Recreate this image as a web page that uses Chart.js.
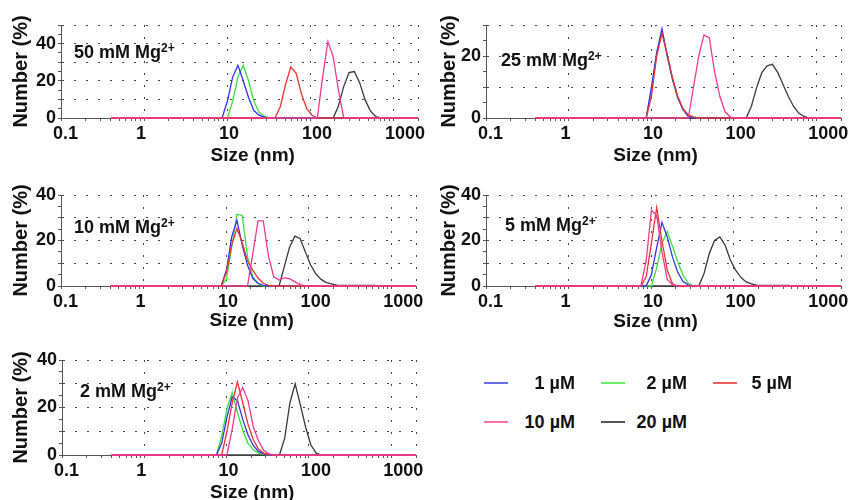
<!DOCTYPE html>
<html>
<head>
<meta charset="utf-8">
<script src="https://cdn.jsdelivr.net/npm/chart.js@4.4.1/dist/chart.umd.min.js"></script>
<style>
  html, body { margin: 0; padding: 0; background: #fff; width: 858px; height: 500px; overflow: hidden; }
  body { position: relative; font-family: "Liberation Sans", Arial, sans-serif; font-weight: bold; color: #111; }
  .panel { position: absolute; }
  .panel canvas { display: block; }
  .note { position: absolute; font-size: 18px; line-height: 18px; white-space: nowrap; }
  .note sup { font-size: 12px; position: relative; top: -6px; vertical-align: baseline; }
  .leg-line { position: absolute; width: 24px; height: 2px; }
  .leg-text { position: absolute; width: 70px; text-align: right; font-size: 18px; line-height: 18px; white-space: nowrap; }
</style>
</head>
<body>
<script>
// series labels (protein concentration) and panel labels (Mg2+ concentration)
const CONC_LABELS = ["1 µM", "2 µM", "5 µM", "10 µM", "20 µM"];
const PANEL_NAMES = ["50 mM Mg", "25 mM Mg", "10 mM Mg", "5 mM Mg", "2 mM Mg"];
const Y_MAX = [50, 30, 40, 40, 40];

const X_MIN = 0.1;
const X_MAX = 2000;
const X_TICK_VALUES = [0.1, 1, 10, 100, 1000];
const X_TICK_LABELS = ["0.1", "1", "10", "100", "1000"];

// [size (nm), number (%)]
const MG50_1UM = [[0.4,0],[8.721,0],[10.1,9],[11.7,22],[13.54,28.3],[15.69,20],[18.17,11],[21.04,4],[24.36,1.5],[28.21,0.5],[32.67,0],[1990,0]];
const MG50_2UM = [[0.4,0],[10.1,0],[11.7,9],[13.54,22],[15.69,28.3],[18.17,20],[21.04,9],[24.36,3],[28.21,1],[32.67,0],[1990,0]];
const MG50_5UM = [[0.4,0],[37.84,0],[43.82,6],[50.75,18],[58.77,27.5],[68.06,24],[78.82,13],[91.28,5],[105.7,1.5],[122.4,0],[1990,0]];
const MG50_10UM = [[0.4,0],[122.4,0],[141.8,22],[164.2,41],[190.1,33],[220.2,15],[255,0],[1990,0]];
const MG50_20UM = [[0.4,0],[190.1,0],[220.2,6.5],[255,17],[295.3,24.4],[342,25],[396.1,19],[458.7,10],[531.2,4],[615.1,0.8],[712.4,0],[1990,0]];

const MG25_1UM = [[0.4,0],[8.721,0],[10.1,10],[11.7,21],[13.54,28.8],[15.69,20],[18.17,12.5],[21.04,6.5],[24.36,2.7],[28.21,0.5],[32.67,0],[1990,0]];
const MG25_2UM = [[0.4,0],[8.721,0],[10.1,9],[11.7,21],[13.54,28],[15.69,20.5],[18.17,12.5],[21.04,6.5],[24.36,3],[28.21,1],[32.67,0.4],[37.84,0],[1990,0]];
const MG25_5UM = [[0.4,0],[8.721,0],[10.1,7],[11.7,20],[13.54,27.2],[15.69,20.5],[18.17,13],[21.04,7],[24.36,3],[28.21,1],[32.67,0.3],[37.84,0],[1990,0]];
const MG25_10UM = [[0.4,0],[28.21,0],[32.67,10],[37.84,20],[43.82,26.8],[50.75,25.8],[58.77,15],[68.06,7],[78.82,2],[91.28,0.3],[105.7,0],[1990,0]];
const MG25_20UM = [[0.4,0],[141.8,0],[164.2,3.8],[190.1,9.8],[220.2,14.7],[255,16.8],[295.3,17.3],[342,14.7],[396.1,10.9],[458.7,7],[531.2,3.8],[615.1,1.6],[712.4,0.5],[825,0],[1990,0]];

const MG10_1UM = [[0.4,0],[8.721,0],[10.1,7],[11.7,21.6],[13.54,28.9],[15.69,18],[18.17,9.2],[21.04,3.4],[24.36,1.2],[28.21,0.3],[32.67,0],[1990,0]];
const MG10_2UM = [[0.4,0],[8.721,0],[10.1,3],[11.7,17],[13.54,31.5],[15.69,31],[18.17,13],[21.04,4],[24.36,1],[28.21,0],[1990,0]];
const MG10_5UM = [[0.4,0],[8.721,0],[10.1,6],[11.7,18],[13.54,25.3],[15.69,19],[18.17,11],[21.04,7],[24.36,3.5],[28.21,1.2],[32.67,0.3],[37.84,0],[1990,0]];
const MG10_10UM = [[0.4,0],[18.17,0],[21.04,14],[24.36,28.6],[28.21,28.6],[32.67,13],[37.84,4],[43.82,2.6],[50.75,3.6],[58.77,3.2],[68.06,1.8],[78.82,0.6],[91.28,0],[1990,0]];
const MG10_20UM = [[0.4,0],[43.82,0],[50.75,8.5],[58.77,17],[68.06,21.9],[78.82,20.9],[91.28,15],[105.7,9.2],[122.4,5.3],[141.8,2.9],[164.2,1.5],[190.1,0.9],[220.2,0.4],[255,0.3],[615.1,0.3],[712.4,0],[1990,0]];

const MG5_1UM = [[0.4,0],[8.721,0],[10.1,5],[11.7,17],[13.54,28],[15.69,21.6],[18.17,12.8],[21.04,6],[24.36,2],[28.21,0.5],[32.67,0],[1990,0]];
const MG5_2UM = [[0.4,0],[10.1,0],[11.7,8],[13.54,18.7],[15.69,24],[18.17,17.5],[21.04,10.7],[24.36,4.8],[28.21,1.2],[32.67,0],[1990,0]];
const MG5_5UM = [[0.4,0],[7.531,0],[8.721,4],[10.1,19],[11.7,34.5],[13.54,20],[15.69,7],[18.17,1],[21.04,0],[1990,0]];
const MG5_10UM = [[0.4,0],[7.531,0],[8.721,11],[10.1,33.3],[11.7,31],[13.54,15],[15.69,3],[18.17,0.5],[21.04,0],[1990,0]];
const MG5_20UM = [[0.4,0],[37.84,0],[43.82,5.5],[50.75,14.3],[58.77,20],[68.06,21.6],[78.82,18],[91.28,11.4],[105.7,7],[122.4,3.8],[141.8,1.8],[164.2,0.9],[190.1,0.4],[220.2,0.3],[458.7,0.3],[531.2,0],[1990,0]];

const MG2_1UM = [[0.4,0],[7.531,0],[8.721,5],[10.1,16],[11.7,24.5],[13.54,23],[15.69,15],[18.17,8.5],[21.04,4],[24.36,1.5],[28.21,0.5],[32.67,0],[1990,0]];
const MG2_2UM = [[0.4,0],[7.531,0],[8.721,8],[10.1,19.5],[11.7,26.3],[13.54,18],[15.69,10.3],[18.17,5],[21.04,2.3],[24.36,0.8],[28.21,0.3],[32.67,0],[1990,0]];
const MG2_5UM = [[0.4,0],[8.721,0],[10.1,10],[11.7,22],[13.54,30.8],[15.69,22],[18.17,13],[21.04,6.5],[24.36,2.5],[28.21,0.8],[32.67,0.2],[37.84,0],[1990,0]];
const MG2_10UM = [[0.4,0],[10.1,0],[11.7,11],[13.54,24],[15.69,28.4],[18.17,23],[21.04,12],[24.36,6],[28.21,2],[32.67,0.5],[37.84,0],[1990,0]];
const MG2_20UM = [[0.4,0],[43.82,0],[50.75,7],[58.77,22],[68.06,30],[78.82,21],[91.28,11.7],[105.7,4.2],[122.4,0.8],[141.8,0],[1990,0]];

const PANEL_SERIES = [
  [MG50_1UM, MG50_2UM, MG50_5UM, MG50_10UM, MG50_20UM],
  [MG25_1UM, MG25_2UM, MG25_5UM, MG25_10UM, MG25_20UM],
  [MG10_1UM, MG10_2UM, MG10_5UM, MG10_10UM, MG10_20UM],
  [MG5_1UM, MG5_2UM, MG5_5UM, MG5_10UM, MG5_20UM],
  [MG2_1UM, MG2_2UM, MG2_5UM, MG2_10UM, MG2_20UM],
];

// styles
const LINE_COLORS = ["#3434ee", "#38e438", "#ee3232", "#f23a8e", "#3a3a3a"];
const LEGEND_COLORS = ["#6a6af0", "#6cf06c", "#f05c5c", "#ff6fae", "#555555"];
const DRAW_ORDER = [2, 3, 1, 0, 4]; // lower = drawn on top (pink baseline over the rest)
const GRID = "#444";
const FONT = "'Liberation Sans', Arial, sans-serif";

// layout: canvas box and the plot area inside it (page pixels)
const LAYOUT = [
  { x: 0,   y: 0,   w: 430, h: 172, l: 61,  t: 25,  r: 418, b: 118, titleY: 156, shift: 5,  note: [74, 52] },
  { x: 428, y: 0,   w: 430, h: 172, l: 486, t: 25,  r: 841, b: 118, titleY: 156, shift: -3, note: [501, 60] },
  { x: 0,   y: 170, w: 430, h: 172, l: 61,  t: 195, r: 416, b: 286, titleY: 321, shift: 5,  note: [74, 227] },
  { x: 428, y: 170, w: 430, h: 172, l: 486, t: 195, r: 841, b: 286, titleY: 322, shift: -3, note: [505, 225] },
  { x: 0,   y: 335, w: 430, h: 175, l: 62,  t: 360, r: 416, b: 455, titleY: 493, shift: 5,  note: [80, 391] },
];
const LEGEND_POS = [
  { line: 484, textRight: 575, y: 383 },
  { line: 601, textRight: 687, y: 383 },
  { line: 713, textRight: 792, y: 383 },
  { line: 484, textRight: 575, y: 422 },
  { line: 601, textRight: 687, y: 422 },
];

function xTickPositions() {
  const out = [];
  X_TICK_VALUES.forEach((d) => {
    for (let k = 1; k <= 9; k++) {
      const v = k === 1 ? d : k * d;
      if (v < X_MAX) out.push(v);
    }
  });
  out.push(X_MAX);
  return out;
}

function xTitleText(shift) {
  const pad = " ".repeat(Math.abs(shift));
  return shift > 0 ? pad + "Size (nm)" : "Size (nm)" + pad;
}

function buildPanel(idx) {
  const L = LAYOUT[idx];
  const wrap = document.createElement("div");
  wrap.className = "panel";
  wrap.style.left = L.x + "px";
  wrap.style.top = L.y + "px";
  const canvas = document.createElement("canvas");
  canvas.width = L.w;
  canvas.height = L.h;
  canvas.style.width = L.w + "px";
  canvas.style.height = L.h + "px";
  wrap.appendChild(canvas);
  document.body.appendChild(wrap);

  const yAxisW = L.l - L.x;
  const xAxisH = L.y + L.h - L.b;
  const titleLH = 19 * 1.2;

  const datasets = PANEL_SERIES[idx].map((pts, i) => ({
    label: CONC_LABELS[i],
    data: pts.map(([x, y]) => ({ x, y })),
    borderColor: LINE_COLORS[i],
    borderWidth: 1.3,
    pointRadius: 0,
    tension: 0,
    fill: false,
    clip: 4,
    order: DRAW_ORDER[i],
  }));

  new Chart(canvas.getContext("2d"), {
    type: "line",
    data: { datasets },
    options: {
      responsive: false,
      animation: false,
      layout: { padding: { left: 0, top: L.t - L.y, right: L.x + L.w - L.r, bottom: 0 } },
      plugins: { legend: { display: false }, tooltip: { enabled: false } },
      scales: {
        x: {
          type: "logarithmic",
          min: X_MIN,
          max: X_MAX,
          afterBuildTicks: (s) => { s.ticks = xTickPositions().map((v) => ({ value: v })); },
          afterFit: (s) => { s.height = xAxisH; },
          ticks: {
            autoSkip: false,
            maxRotation: 0,
            minRotation: 0,
            align: "start",
            labelOffset: -8,
            padding: 2,
            color: "#111",
            font: { family: FONT, size: 18, weight: "bold" },
            callback: (v) => {
              const i = X_TICK_VALUES.indexOf(v);
              return i >= 0 ? X_TICK_LABELS[i] : "";
            },
          },
          grid: {
            color: (c) => {
              const v = c.tick ? c.tick.value : null;
              return (v === X_MAX || (v !== X_MIN && X_TICK_VALUES.includes(v))) ? GRID : "rgba(0,0,0,0)";
            },
            tickColor: "#555",
            tickLength: 3,
            lineWidth: 1,
          },
          border: { display: true, color: "#555", width: 1, dash: [2, 10] },
          title: {
            display: true,
            text: xTitleText(L.shift),
            color: "#111",
            font: { family: FONT, size: 19, weight: "bold", lineHeight: 1.2 },
            padding: { top: 0, bottom: L.y + L.h - L.titleY - titleLH / 2 },
          },
        },
        y: {
          min: 0,
          max: Y_MAX[idx],
          afterFit: (s) => { s.width = yAxisW; },
          ticks: {
            stepSize: 5,
            autoSkip: false,
            padding: 2,
            color: "#111",
            font: { family: FONT, size: 18, weight: "bold" },
            callback: (v) => (v % 20 === 0 ? String(v) : ""),
          },
          grid: {
            color: (c) => {
              const v = c.tick ? c.tick.value : 0;
              return v > 0 && v % 10 === 0 ? GRID : "rgba(0,0,0,0)";
            },
            tickColor: "#555",
            tickLength: 3,
            lineWidth: 1,
          },
          border: { display: true, color: "#555", width: 1, dash: [2, 10] },
          title: {
            display: true,
            text: "Number (%)",
            color: "#111",
            font: { family: FONT, size: 20, weight: "bold", lineHeight: 1.2 },
            padding: { top: 9, bottom: 0 },
          },
        },
      },
    },
  });

  const note = document.createElement("div");
  note.className = "note";
  note.style.left = L.note[0] + "px";
  note.style.top = (L.note[1] - 9) + "px";
  note.innerHTML = PANEL_NAMES[idx] + "<sup>2+</sup>";
  document.body.appendChild(note);
}

function buildLegend() {
  CONC_LABELS.forEach((label, i) => {
    const p = LEGEND_POS[i];
    const line = document.createElement("div");
    line.className = "leg-line";
    line.style.left = p.line + "px";
    line.style.top = (p.y - 1) + "px";
    line.style.background = LEGEND_COLORS[i];
    document.body.appendChild(line);
    const txt = document.createElement("div");
    txt.className = "leg-text";
    txt.style.left = (p.textRight - 70) + "px";
    txt.style.top = (p.y - 9) + "px";
    txt.textContent = label;
    document.body.appendChild(txt);
  });
}

for (let i = 0; i < LAYOUT.length; i++) buildPanel(i);
buildLegend();
</script>
</body>
</html>
